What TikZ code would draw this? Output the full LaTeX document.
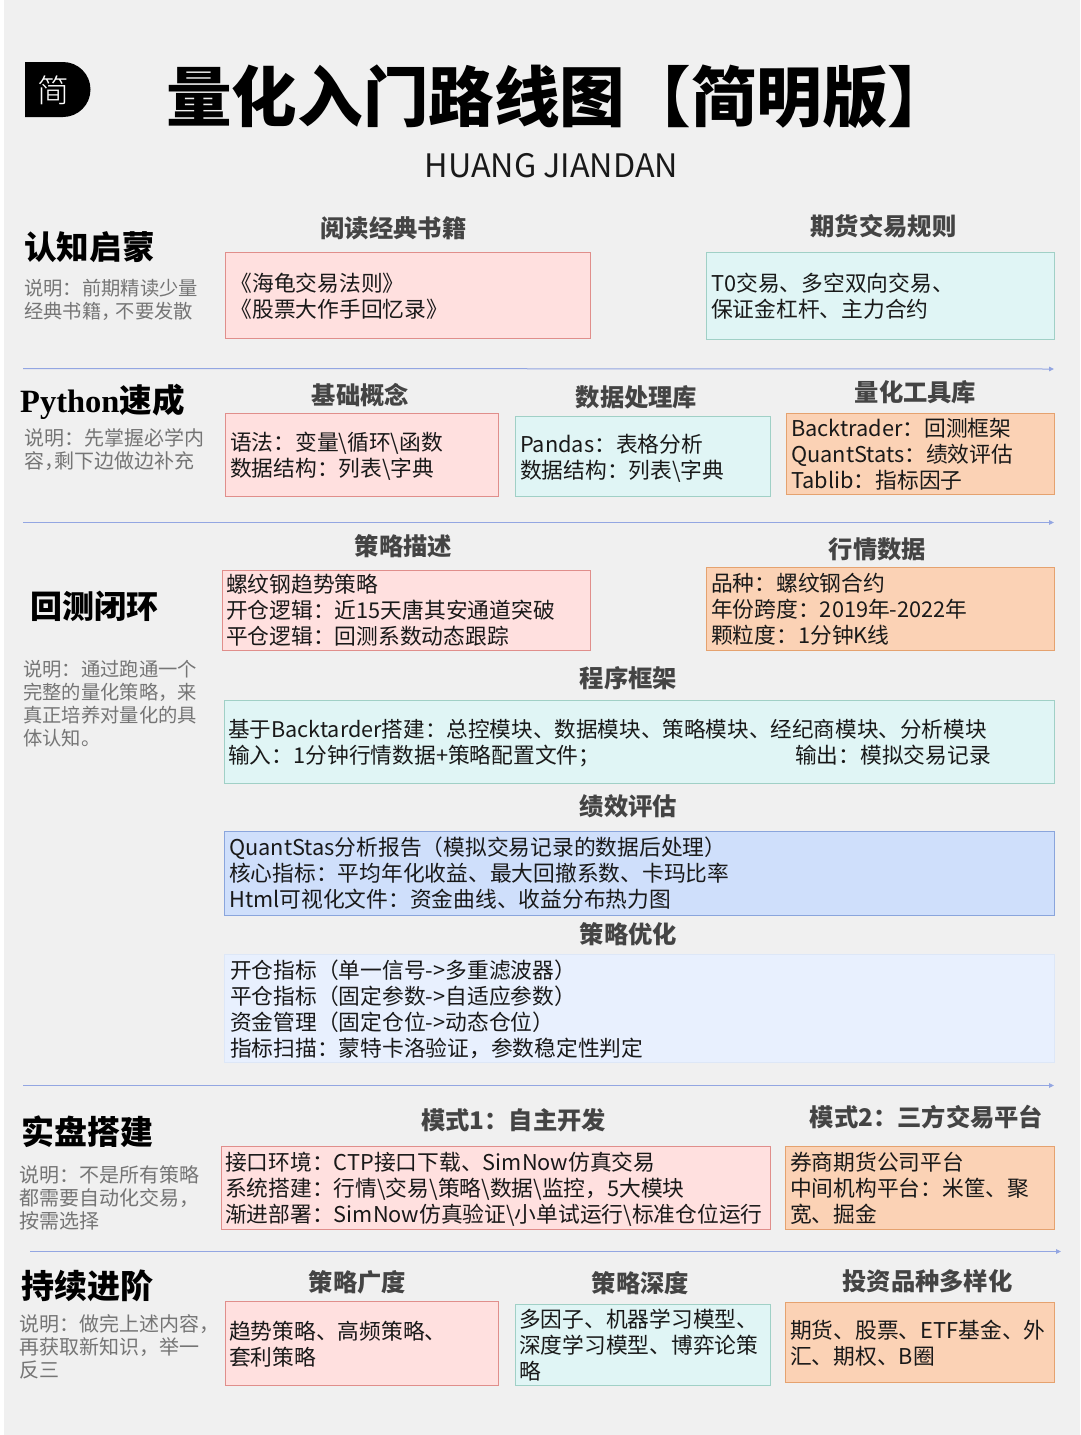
\documentclass[tikz,border=0pt]{standalone}
\usepackage{fontspec}
\setmainfont{Noto Sans CJK SC}
\newfontfamily\blackf{Noto Sans CJK SC Black}
\newfontfamily\lightf{Noto Sans CJK SC Light}
\newfontfamily\pyf{Liberation Serif}
\usetikzlibrary{arrows.meta}
\definecolor{bgc}{HTML}{F0F0F0}
\definecolor{redf}{HTML}{FFE0DF}\definecolor{redd}{HTML}{E08E8B}
\definecolor{tealf}{HTML}{E0F5F5}\definecolor{teald}{HTML}{A0D0C6}
\definecolor{orgf}{HTML}{FBD2B5}\definecolor{orgd}{HTML}{E5A26F}
\definecolor{bluf}{HTML}{CFDFFB}\definecolor{blud}{HTML}{8AA5DC}
\definecolor{lblf}{HTML}{E8F0FE}\definecolor{lbld}{HTML}{DDE7F7}
\definecolor{sepc}{HTML}{93A6E2}
\definecolor{headc}{HTML}{444444}
\definecolor{notec}{HTML}{757575}
\tikzset{
  sectitle/.style={anchor=west,inner sep=0pt,font=\blackf\fontsize{33}{36}\selectfont,text=black},
  heading/.style={inner sep=0pt,font=\bfseries\fontsize{24.3}{28}\selectfont,text=headc},
  notetext/.style={anchor=north west,inner sep=0pt,align=left,font=\fontsize{19.3}{23}\selectfont,text=notec},
  notewide/.style={notetext,font=\fontsize{20}{23}\selectfont},
  boxbase/.style={inner sep=0pt,outer sep=0pt,line width=1pt},
  boxtext/.style={anchor=west,inner sep=0pt,align=left,font=\fontsize{21.75}{26}\selectfont,text=black!90},
  redbox/.style={boxbase,draw=redd,fill=redf},
  tealbox/.style={boxbase,draw=teald,fill=tealf},
  orgbox/.style={boxbase,draw=orgd,fill=orgf},
  blubox/.style={boxbase,draw=blud,fill=bluf},
  lblbox/.style={boxbase,draw=lbld,fill=lblf},
  sepline/.style={draw=sepc,line width=1pt,-{Triangle[length=5pt,width=4.5pt]}},
}
% \boxnode{name}{style}{x0}{y0}{x1}{y1}{pad}{downward text shift}{text}
\newcommand{\boxnode}[9]{%
  \pgfmathsetmacro{\bw}{#5-#3}\pgfmathsetmacro{\bh}{#6-#4}%
  \pgfmathsetmacro{\bx}{(#3+#5)/2}\pgfmathsetmacro{\by}{(#4+#6)/2}%
  \pgfmathsetmacro{\tx}{#3+#7}\pgfmathsetmacro{\ty}{(#4+#6)/2+#8}%
  \node (#1) [#2,minimum width=\bw pt,minimum height=\bh pt] at (\bx,\by) {};%
  \node (#1t) [boxtext] at (\tx,\ty) {#9};%
}
\begin{document}
\begin{tikzpicture}[x=1pt,y=-1pt]
\useasboundingbox (0,0) rectangle (1080,1435);
\fill[white] (0,0) rectangle (1080,1435);
\fill[bgc] (4,0) rectangle (1080,1435);
% logo
\fill[black] (25,62) -- (63,62) arc[start angle=-90,end angle=90,radius=27.5] -- (25,117) -- cycle;
\node (logo) [inner sep=0pt,text=white,font=\lightf\fontsize{32}{36}\selectfont] at (53,90) {简};
% title
\node (title) [anchor=west,inner sep=0pt,font=\blackf\fontsize{65.6}{70}\selectfont] at (166,97) {量化入门路线图【简明版】};
\node (sub) [inner sep=0pt,font=\fontsize{32.3}{36}\selectfont,text=black!90] at (551.5,166) {HUANG JIANDAN};
% separators
\coordinate (s1a) at (23,368.5); \coordinate (s1b) at (1054,369);
\coordinate (s2a) at (23,522.5); \coordinate (s2b) at (1054,522.5);
\coordinate (s3a) at (23,1085.5); \coordinate (s3b) at (1054,1085.5);
\coordinate (s4a) at (30,1251.5); \coordinate (s4b) at (1061,1251.5);
\draw[sepline] (s1a) -- (s1b);
\draw[sepline] (s2a) -- (s2b);
\draw[sepline] (s3a) -- (s3b);
\draw[sepline] (s4a) -- (s4b);
% section titles
\node (t1) [sectitle,font=\blackf\fontsize{32.6}{36}\selectfont] at (24,247) {认知启蒙};
\node (t2) [sectitle,font=\blackf\fontsize{32.5}{36}\selectfont] at (20,402) {{\pyf\bfseries Python}速成};
\node (t3) [sectitle,font=\blackf\fontsize{32}{36}\selectfont] at (30,606) {回测闭环};
\node (t4) [sectitle] at (21,1132) {实盘搭建};
\node (t5) [sectitle] at (21,1286) {持续进阶};
% notes
\node (n1) [notetext] at (24,279) {说明：前期精读少量\\经典书籍，\kern-5pt 不要发散};
\node (n2) [notewide] at (24,428) {说明：先掌握必学内\\容，\kern-10pt 剩下边做边补充};
\node (n3) [notetext] at (23,660) {说明：通过跑通一个\\完整的量化策略，来\\真正培养对量化的具\\体认知。};
\node (n4) [notewide] at (19,1165) {说明：不是所有策略\\都需要自动化交易，\\按需选择};
\node (n5) [notewide] at (19,1314) {说明：做完上述内容，\\再获取新知识，举一\\反三};
% headings
\node (h1) [heading] at (393.5,228) {阅读经典书籍};
\node (h2) [heading] at (883.5,226) {期货交易规则};
\node (h3) [heading] at (360.5,395) {基础概念};
\node (h4) [heading] at (636.5,397) {数据处理库};
\node (h5) [heading] at (915.5,392) {量化工具库};
\node (h6) [heading] at (403.5,546) {策略描述};
\node (h7) [heading] at (877.5,549) {行情数据};
\node (h8) [heading] at (628.5,678) {程序框架};
\node (h9) [heading] at (628.5,806) {绩效评估};
\node (h10) [heading] at (628.5,934) {策略优化};
\node (h11) [heading] at (513.5,1120) {模式1：自主开发};
\node (h12) [heading] at (926.5,1117) {模式2：三方交易平台};
\node (h13) [heading] at (357.5,1282) {策略广度};
\node (h14) [heading] at (640.5,1283) {策略深度};
\node (h15) [heading] at (927.5,1281) {投资品种多样化};
% boxes
\boxnode{b1}{redbox}{225}{252}{590}{338}{5.5}{1}{《海龟交易法则》\\《股票大作手回忆录》}
\boxnode{b2}{tealbox}{706}{252}{1054}{339}{5}{1}{T0交易、多空双向交易、\\保证金杠杆、主力合约}
\boxnode{b3}{redbox}{225}{413}{498}{496}{5}{2}{语法：变量\textbackslash 循环\textbackslash 函数\\数据结构：列表\textbackslash 字典}
\boxnode{b4}{tealbox}{515}{416}{770}{496}{5}{2}{Pandas：表格分析\\数据结构：列表\textbackslash 字典}
\boxnode{b5}{orgbox}{786}{413}{1054}{494}{5}{1}{Backtrader：回测框架\\QuantStats：绩效评估\\Tablib：指标因子}
\boxnode{b6}{redbox}{222}{570}{590}{650}{4}{0}{螺纹钢趋势策略\\开仓逻辑：近15天唐其安通道突破\\平仓逻辑：回测系数动态跟踪}
\boxnode{b7}{orgbox}{706}{567}{1054}{650}{5}{1}{品种：螺纹钢合约\\年份跨度：2019年-2022年\\颗粒度：1分钟K线}
\boxnode{b8}{tealbox}{224}{700}{1054}{783}{4}{2}{\fontsize{21.6}{26}\selectfont 基于Backtarder搭建：总控模块、数据模块、策略模块、经纪商模块、分析模块\\\makebox[567pt][l]{输入：1分钟行情数据+策略配置文件；}输出：模拟交易记录}
\boxnode{b9}{blubox}{224}{831}{1054}{915}{5}{0}{QuantStas分析报告（模拟交易记录的数据后处理）\\核心指标：平均年化收益、最大回撤系数、卡玛比率\\Html可视化文件：资金曲线、收益分布热力图}
\boxnode{b10}{lblbox}{224}{954}{1054}{1062}{6}{1}{开仓指标（单一信号->多重滤波器）\\平仓指标（固定参数->自适应参数）\\资金管理（固定仓位->动态仓位）\\指标扫描：蒙特卡洛验证，参数稳定性判定}
\boxnode{b11}{redbox}{221}{1146}{770}{1229}{4}{2}{接口环境：CTP接口下载、SimNow仿真交易\\系统搭建：行情\textbackslash 交易\textbackslash 策略\textbackslash 数据\textbackslash 监控，5大模块\\渐进部署：SimNow仿真验证\textbackslash 小单试运行\textbackslash 标准仓位运行}
\boxnode{b12}{orgbox}{785}{1146}{1054}{1229}{5}{1}{券商期货公司平台\\中间机构平台：米筐、聚\\宽、掘金}
\boxnode{b13}{redbox}{225}{1301}{498}{1385}{4}{1}{趋势策略、高频策略、\\套利策略}
\boxnode{b14}{tealbox}{515}{1304}{770}{1385}{4}{1}{多因子、机器学习模型、\\深度学习模型、博弈论策\\略}
\boxnode{b15}{orgbox}{785}{1302}{1054}{1382}{5}{1}{期货、股票、ETF基金、外\\汇、期权、B圈}
\end{tikzpicture}
\end{document}
